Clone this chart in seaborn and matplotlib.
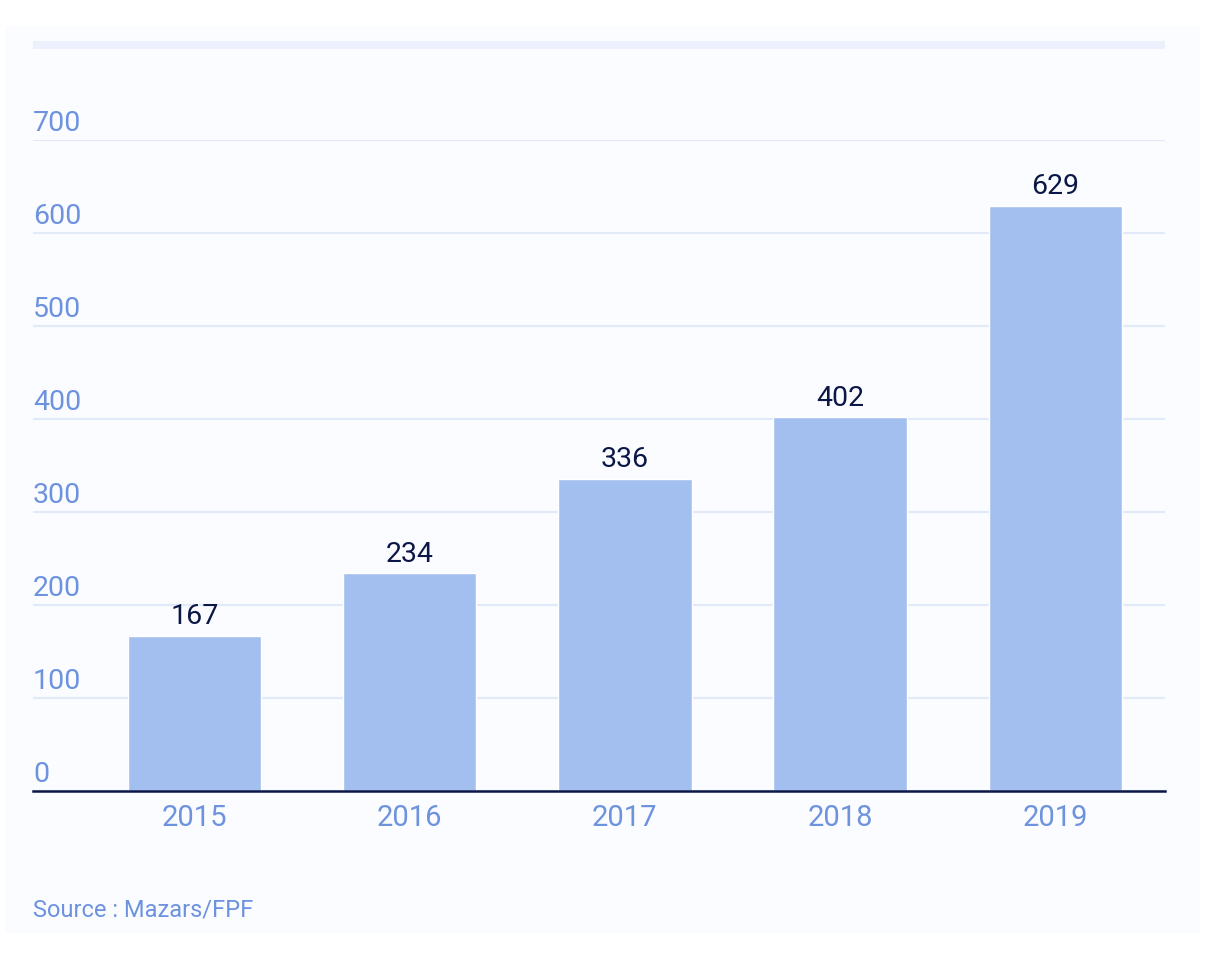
import matplotlib
matplotlib.use("Agg")
import matplotlib.pyplot as plt
from matplotlib.patches import Rectangle
import seaborn as sns
import pandas as pd

# données
years = ["2015", "2016", "2017", "2018", "2019"]
values = [167, 234, 336, 402, 629]
y_ticks = [0, 100, 200, 300, 400, 500, 600, 700]
source = "Source : Mazars/FPF"

bar_color = "#a3bff0"
label_blue = "#6d92de"
navy = "#0b1746"
grid_color = "#e2e9f8"
panel_color = "#fafcff"

df = pd.DataFrame({"year": years, "value": values})

sns.set_theme(style="white")
plt.rcParams["font.family"] = ["Roboto", "DejaVu Sans"]

fig = plt.figure(figsize=(12.08, 9.76), dpi=100)
fig.patch.set_facecolor("white")

# fond du panneau + bande du haut
fig.patches.append(Rectangle((5 / 1208, 1 - 933 / 976), 1195 / 1208, 907 / 976,
                             transform=fig.transFigure, facecolor=panel_color,
                             edgecolor="none", zorder=0))
fig.patches.append(Rectangle((33 / 1208, 1 - 49 / 976), 1132 / 1208, 8 / 976,
                             transform=fig.transFigure, facecolor="#ebf1fc",
                             edgecolor="none", zorder=1))

ax = fig.add_axes([33 / 1208, 1 - 791 / 976, 1132 / 1208, 651 / 976])
ax.set_facecolor("none")
ax.set_zorder(5)

sns.barplot(data=df, x="year", y="value", color=bar_color, width=0.62,
            saturation=1, ax=ax, zorder=3)

ax.set_xlim(-0.75, 4.51)
ax.set_ylim(0, 700)
ax.set_yticks(y_ticks)
ax.yaxis.grid(True, color=grid_color, linewidth=1.5)
ax.set_axisbelow(True)
ax.set_yticklabels([])
ax.tick_params(axis="y", length=0)
ax.tick_params(axis="x", length=0, pad=9, labelsize=21, labelcolor=label_blue)
ax.set_xlabel("")
ax.set_ylabel("")

for s in ["top", "right", "left"]:
    ax.spines[s].set_visible(False)
ax.spines["bottom"].set_color(navy)
ax.spines["bottom"].set_linewidth(1.8)
ax.spines["bottom"].set_zorder(4)

# étiquettes de l'axe y au-dessus des lignes
for t in y_ticks:
    ax.annotate(str(t), xy=(0, t), xycoords=ax.get_yaxis_transform(),
                xytext=(0, 6.5), textcoords="offset points",
                ha="left", va="baseline", fontsize=20.5, color=label_blue)

ax.bar_label(ax.containers[0], labels=[str(v) for v in values], padding=4,
             fontsize=20.5, color=navy)

fig.text(33 / 1208, 1 - 917 / 976, source, fontsize=17, color=label_blue,
         ha="left", va="baseline")

fig.savefig("out.png", dpi=100, facecolor=fig.get_facecolor())
